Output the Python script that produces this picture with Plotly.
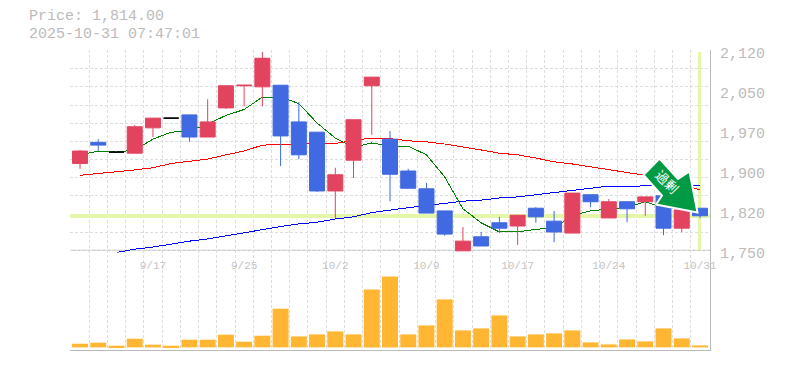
import plotly.graph_objects as go

DATES = ["9/10","9/11","9/12","9/16","9/17","9/18","9/19","9/22","9/24","9/25","9/26","9/29","9/30","10/1","10/2",
         "10/3","10/6","10/7","10/8","10/9","10/10","10/14","10/15","10/16","10/17","10/20","10/21","10/22","10/23",
         "10/24","10/27","10/28","10/29","10/30","10/31"]
TICK_DATES = ["9/17","9/25","10/2","10/9","10/17","10/24","10/31"]
OPEN = [1911,1950,1932,1930,1977,1995,2001,1960,2014,2055,2053,2056,1988,1969,1860,1917,2055,1956,1897,1864,1823,
        1749,1775,1801,1795,1828,1804,1782,1853,1810,1840,1840,1851,1791,1828]
HIGH = [1936,1956,1932,1982,1995,1995,2001,2030,2055,2056,2118,2056,2025,1969,1903,1992,2071,1971,1901,1875,1823,
        1793,1784,1812,1815,1830,1823,1856,1853,1845,1841,1849,1851,1825,1828]
LOW = [1901,1934,1932,1930,1960,1995,1951,1960,2012,2017,2017,1906,1919,1858,1810,1884,1964,1841,1865,1819,1777,
       1749,1758,1782,1760,1801,1765,1782,1830,1810,1802,1814,1778,1784,1810]
CLOSE = [1934,1945,1932,1979,1995,1995,1960,1988,2055,2056,2106,1962,1927,1860,1890,1992,2071,1891,1865,1819,1780,
         1767,1758,1791,1815,1812,1784,1856,1840,1840,1827,1849,1791,1825,1814]
MA_SHORT = [1927,1934,1932,1936,1956,1969,1971,1984,2000,2011,2034,2034,2022,1986,1958,1941,1949,1943,1943,1927,1886,
            1827,1801,1784,1784,1789,1791,1815,1823,1827,1830,1840,1829,1827,1821]
MA_MID = [1889,1892,1896,1899,1903,1911,1915,1919,1927,1934,1945,1946,1948,1948,1948,1954,1958,1957,1953,1951,1947,
          1942,1936,1930,1927,1921,1914,1910,1905,1900,1894,1889,1882,1873,1862]
MA_LONG = [None,None,1746,1752,1756,1762,1767,1771,1777,1783,1789,1794,1799,1802,1808,1812,1820,1825,1829,1833,1837,
           1841,1843,1847,1849,1853,1857,1862,1865,1869,1869,1869,1869,1870,1870]
VOLUME = [3.7,4.7,1.7,8.7,2.7,1.7,7.7,7.7,12.7,5.7,11.7,38.7,11,13,16,13,58,71,13,22,48,17,19,32,11,13,14,17,5,3,8,6,
          19,9,2]
PRICE_TICKS = [1750,1824,1898,1972,2046,2120]
PRICE_LABELS = ["1,750","1,820","1,900","1,970","2,050","2,120"]
LAST_PRICE = 1814
TITLE_1 = "Price: 1,814.00"
TITLE_2 = "2025-10-31 07:47:01"
BADGE = "過剰"

RED, BLUE, GOLD = "#e2435f", "#4169e1", "#ffb733"
LIME, GRID, AXIS, TXT = "#e4f6a8", "#dddddd", "#bbbbbb", "#bbbbbb"
FONT = "Liberation Mono"
W, H, L, R, T, B = 785, 370, 70, 710, 50, 350
px = lambda x: (x - L) / (R - L)
py = lambda y: (B - y) / (B - T)

idx = list(range(len(DATES)))
PER_PX = 370 / 199.6
y_range = [1750 - 2.2 * PER_PX, 2120 + 0.2 * PER_PX]
x_range = [-0.55, 34.55]
price_domain = [py(252.5), py(50.5)]
nudge = 2.2 * PER_PX  # labels sit slightly below their gridlines

fig = go.Figure()
fig.add_trace(go.Scatter(x=[0], y=[0.5], xaxis="x", yaxis="y", mode="lines", showlegend=False))
fig.add_trace(go.Scatter(x=[idx[0] - 0.55, idx[-1] + 0.55], y=[LAST_PRICE] * 2, xaxis="x2", yaxis="y2", mode="lines",
                         line=dict(color=LIME, width=3.5), showlegend=False))
fig.add_trace(go.Scatter(x=[idx[-1]] * 2, y=[1750, 2118], xaxis="x2", yaxis="y2", mode="lines",
                         line=dict(color=LIME, width=3), showlegend=False))
for vals, col in [(MA_LONG, "#0000ff"), (MA_MID, "#ff0000"), (MA_SHORT, "#008000")]:
    fig.add_trace(go.Scatter(x=idx, y=vals, xaxis="x2", yaxis="y2", mode="lines",
                             line=dict(color=col, width=1), showlegend=False))

doji = [i for i in idx if OPEN[i] == CLOSE[i]]
real = [i for i in idx if OPEN[i] != CLOSE[i]]
fig.add_trace(go.Candlestick(x=real, open=[OPEN[i] for i in real], high=[HIGH[i] for i in real],
                             low=[LOW[i] for i in real], close=[CLOSE[i] for i in real],
                             xaxis="x2", yaxis="y4", whiskerwidth=0, showlegend=False,
                             increasing=dict(line=dict(color=RED, width=1), fillcolor=RED),
                             decreasing=dict(line=dict(color=BLUE, width=1), fillcolor=BLUE)))
fig.add_trace(go.Candlestick(x=doji, open=[OPEN[i] for i in doji], high=[HIGH[i] for i in doji],
                             low=[LOW[i] for i in doji], close=[CLOSE[i] for i in doji],
                             xaxis="x2", yaxis="y4", whiskerwidth=0, showlegend=False,
                             increasing=dict(line=dict(color="#000000", width=1), fillcolor="#000000"),
                             decreasing=dict(line=dict(color="#000000", width=1), fillcolor="#000000")))
fig.add_trace(go.Bar(x=idx, y=VOLUME, xaxis="x2", yaxis="y3", width=0.877, marker=dict(color=GOLD, line=dict(width=0)),
                     showlegend=False))

arrow = [(659.5, 158.5), (678, 179), (689.5, 171.5), (697.5, 212.5), (656, 204.5), (662, 195.5), (643.5, 175)]
arrow_path = "M " + " L ".join(f"{px(x):.5f},{py(y):.5f}" for x, y in arrow) + " Z"

fig.update_layout(
    width=W, height=H, margin=dict(l=L, r=W - R, t=T, b=H - B, pad=0, autoexpand=False),
    paper_bgcolor="white", plot_bgcolor="rgba(0,0,0,0)", showlegend=False, boxgap=0.177, boxgroupgap=0,
    xaxis=dict(domain=[0, 1], range=x_range, anchor="y", showticklabels=False, ticks="", showgrid=False, zeroline=False,
               showline=True, linecolor=AXIS, linewidth=1,
               minor=dict(tick0=-0.5, dtick=1, showgrid=True, gridcolor=GRID, gridwidth=1, griddash="3px,2px", ticks="")),
    yaxis=dict(domain=[0, 1], range=[0, 1], anchor="x", side="right", showticklabels=False, ticks="", showgrid=False,
               zeroline=False, showline=True, linecolor=AXIS, linewidth=1),
    xaxis2=dict(domain=[0, 1], range=x_range, anchor="y2", showgrid=False, zeroline=False, showline=False,
                rangeslider=dict(visible=False), tickmode="array",
                tickvals=[DATES.index(d) for d in TICK_DATES], ticktext=TICK_DATES,
                tickfont=dict(family=FONT, size=11, color="#c4c4c4"), ticks="outside", ticklen=2,
                tickcolor="rgba(0,0,0,0)"),
    yaxis2=dict(domain=price_domain, range=y_range, anchor="x2", side="right", showgrid=False, zeroline=False,
                tickmode="array", tickvals=[v - nudge for v in PRICE_TICKS], ticktext=PRICE_LABELS,
                tickfont=dict(family=FONT, size=15, color=TXT), ticks="outside", ticklen=6, tickcolor="rgba(0,0,0,0)",
                minor=dict(tick0=1750, dtick=370 / 11, showgrid=True, gridcolor=GRID, gridwidth=1, griddash="3px,2px",
                           ticks="")),
    yaxis4=dict(range=y_range, overlaying="y2", anchor="x2", side="right", visible=False, showgrid=False),
    yaxis3=dict(domain=[0, py(250)], range=[-2.6, 97.4], anchor="x2", visible=False, showgrid=False, zeroline=False),
    shapes=[dict(type="line", xref="paper", x0=0, x1=1, yref="y2", y0=1750, y1=1750, layer="below",
                 line=dict(color=AXIS, width=1)),
            dict(type="path", xref="paper", yref="paper", path=arrow_path, fillcolor="#009944",
                 line=dict(color="white", width=2), layer="above")],
    annotations=[
        dict(text=TITLE_1, xref="paper", yref="paper", x=px(28), y=py(17), xanchor="left", yanchor="middle",
             borderpad=0, showarrow=False, font=dict(family=FONT, size=15, color=TXT)),
        dict(text=TITLE_2, xref="paper", yref="paper", x=px(28), y=py(34.5), xanchor="left", yanchor="middle",
             borderpad=0, showarrow=False, font=dict(family=FONT, size=15, color=TXT)),
        dict(text=BADGE, xref="paper", yref="paper", x=px(667), y=py(182), xanchor="center", yanchor="middle",
             textangle=45, showarrow=False, font=dict(family="Noto Sans CJK JP", size=13, color="white")),
    ],
)
crisp = "document.body.style.margin='0';document.querySelectorAll('path.js-line').forEach(function(p){p.style.shapeRendering='crispEdges';});"
fig.write_html("out.html", config=dict(displayModeBar=False), post_script=crisp)
